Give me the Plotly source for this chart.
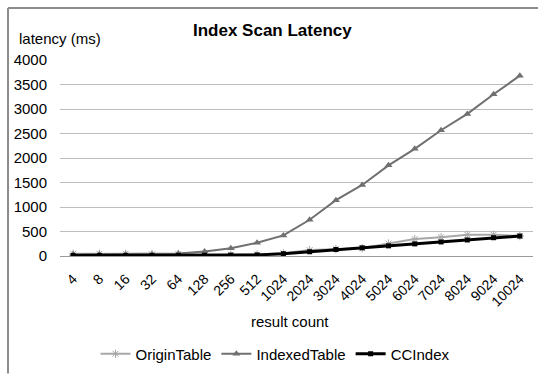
import plotly.graph_objects as go

# Result counts returned by the index scan (categorical x axis)
result_counts = ["4", "8", "16", "32", "64", "128", "256", "512", "1024", "2024",
                 "3024", "4024", "5024", "6024", "7024", "8024", "9024", "10024"]

# Latency in milliseconds for each access method
origin_table = [45, 45, 45, 35, 40, 25, 25, 30, 55, 120, 140, 160, 253, 345, 385, 433, 433, 407]
indexed_table = [35, 35, 35, 35, 50, 90, 160, 270, 420, 740, 1140, 1450, 1850, 2187, 2567, 2900, 3300, 3680]
cc_index = [10, 10, 10, 10, 12, 15, 18, 22, 47, 87, 133, 167, 207, 247, 287, 327, 373, 407]

W, H = 538, 376
L, R, T, B = 60, 5, 60, 116
PW, PH = W - L - R, H - T - B

def px(x):
    return (x - L) / PW

def py(y):
    return (H - B - y) / PH

FONT = "Liberation Sans, Arial, sans-serif"

fig = go.Figure()
fig.add_trace(go.Scatter(
    x=result_counts, y=origin_table, name="OriginTable", mode="lines+markers",
    line=dict(color="#a8a8a8", width=2),
    marker=dict(symbol="asterisk-open", size=7, color="#a8a8a8", line=dict(width=1, color="#a8a8a8")),
))
fig.add_trace(go.Scatter(
    x=result_counts, y=indexed_table, name="IndexedTable", mode="lines+markers",
    line=dict(color="#707070", width=2),
    marker=dict(symbol="triangle-up", size=7, color="#707070"),
))
fig.add_trace(go.Scatter(
    x=result_counts, y=cc_index, name="CCIndex", mode="lines+markers",
    line=dict(color="#000000", width=3),
    marker=dict(symbol="square", size=5, color="#000000"),
))

fig.update_layout(
    width=W, height=H,
    margin=dict(l=L, r=R, t=T, b=B, pad=0),
    paper_bgcolor="white", plot_bgcolor="white",
    font=dict(family=FONT, size=14, color="#000000"),
    showlegend=True,
    legend=dict(orientation="h", x=px(275), xanchor="center", y=py(360), yanchor="middle",
                font=dict(size=15), itemwidth=30, tracegroupgap=0, bgcolor="rgba(0,0,0,0)"),
    xaxis=dict(type="category", range=[-0.5, len(result_counts) - 0.5], tickangle=-45,
               showgrid=False, showline=False, automargin=False,
               ticks="", tickfont=dict(size=14), zeroline=False,
               ticklabelstandoff=11, ticklabelshift=0),
    yaxis=dict(range=[0, 4000], dtick=500, showgrid=True, gridcolor="#bdbdbd", gridwidth=1,
               showline=False, ticks="", tickfont=dict(size=15), zeroline=True, automargin=False,
               zerolinecolor="#9a9a9a", zerolinewidth=1, ticklabelstandoff=12),
    annotations=[
        dict(text="<b>Index Scan Latency</b>", x=px(272), y=py(30), xref="paper", yref="paper",
             showarrow=False, font=dict(size=17), xanchor="center", yanchor="middle"),
        dict(text="latency (ms)", x=px(17), y=py(38), xref="paper", yref="paper",
             showarrow=False, font=dict(size=15), xanchor="left", yanchor="middle"),
        dict(text="result count", x=px(290), y=py(327), xref="paper", yref="paper",
             showarrow=False, font=dict(size=15), xanchor="center", yanchor="middle"),
    ],
    shapes=[
        dict(type="line", xref="paper", yref="paper", x0=px(8), x1=px(540), y0=py(7), y1=py(7),
             line=dict(color="#8c8c8c", width=2)),
        dict(type="line", xref="paper", yref="paper", x0=px(8), x1=px(8), y0=py(7), y1=py(380),
             line=dict(color="#8c8c8c", width=2)),
    ],
)

fig.write_html("out.html")
